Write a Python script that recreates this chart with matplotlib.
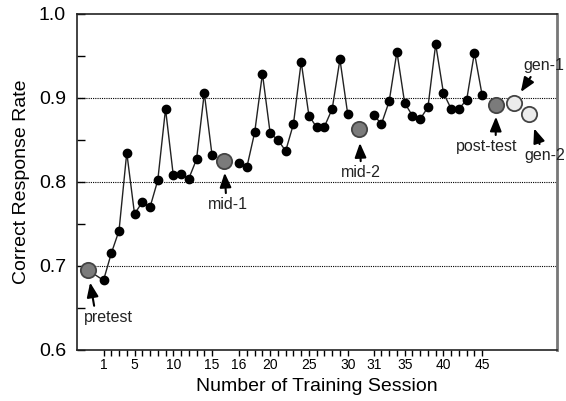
import matplotlib
matplotlib.use('Agg')
import matplotlib.pyplot as plt

plt.rcParams['font.family'] = ['Liberation Sans', 'DejaVu Sans']

# training sessions 1..45, split in three blocks by the mid tests
sessions = list(range(1, 46))
rates = [0.683, 0.715, 0.742, 0.835, 0.762, 0.776, 0.770, 0.802, 0.887, 0.808,
         0.809, 0.804, 0.827, 0.906, 0.832,
         0.823, 0.818, 0.859, 0.929, 0.858, 0.850, 0.837, 0.869, 0.943, 0.879,
         0.865, 0.866, 0.887, 0.946, 0.881,
         0.880, 0.869, 0.896, 0.955, 0.894, 0.879, 0.875, 0.889, 0.964, 0.906,
         0.887, 0.887, 0.898, 0.954, 0.903]

test_names = ['pretest', 'mid-1', 'mid-2', 'post-test', 'gen-1', 'gen-2']
test_rates = [0.695, 0.825, 0.863, 0.892, 0.894, 0.881]

tick_shown = [1, 5, 10, 15, 16, 20, 25, 30, 31, 35, 40, 45]


def pos(s):
    # horizontal place of a session (gaps left for the mid tests)
    if s <= 15:
        return s
    elif s <= 30:
        return s + 2.5
    return s + 4.85


test_x = [-1.0, 16.55, 34.0, 51.65, 53.9, 55.9]

fig = plt.figure(figsize=(5.66, 4.01), dpi=100)
ax = fig.add_axes([77 / 566, 1 - 350 / 401, 480 / 566, 336 / 401])

for y in [0.7, 0.8, 0.9]:
    ax.axhline(y, color='black', lw=0.8, ls=(0, (1, 1)), zorder=1)

# three connected blocks, pretest joins the first one
blocks = [(1, 15), (16, 30), (31, 45)]
for i, (a, b) in enumerate(blocks):
    xs = [pos(s) for s in sessions[a - 1:b]]
    ys = rates[a - 1:b]
    ax.plot(xs, ys, 'o', color='black', ms=6, zorder=3)
    if i == 0:
        xs = [test_x[0]] + xs
        ys = [test_rates[0]] + ys
    ax.plot(xs, ys, '-', color='#222222', lw=1.0, zorder=2)

for k in range(6):
    fc = '#7b7b7b' if k < 4 else '#ececec'
    ax.plot(test_x[k], test_rates[k], 'o', ms=11, mfc=fc, mec='#444444',
            mew=1.3, zorder=4)

# label, text offset (pt), arrow start on text, shrink at marker
notes = [((14.8, -34), (0.22, 1.0), 9),
         ((2.9, -31.5), (0.45, 1.0), 8.5),
         ((1.1, -31.5), (0.5, 1.0), 10),
         ((-7, -30.2), (0.65, 1.0), 8.6),
         ((21.5, 27), (0.25, 0.0), 9.5),
         ((11.5, -30), (0.4, 1.0), 11)]
for k, (off, rp, sh) in enumerate(notes):
    ax.annotate(test_names[k], xy=(test_x[k], test_rates[k]), xytext=off,
                textcoords='offset points', ha='center', va='center',
                fontsize=11.5, color='#222222', annotation_clip=False,
                arrowprops=dict(arrowstyle='-|>,head_length=0.75,head_width=0.3',
                                color='black', lw=1.5, relpos=rp,
                                shrinkA=1, shrinkB=sh))

ax.set_xlim(-2.42, 59.5)
ax.set_ylim(0.6, 1.0)

ax.set_xticks([pos(s) for s in sessions])
ax.set_xticklabels([str(s) if s in tick_shown else '' for s in sessions])
ax.tick_params(axis='x', direction='out', length=4, width=1, labelsize=10, pad=2)

ax.set_yticks([0.6, 0.7, 0.8, 0.9, 1.0])
ax.set_yticklabels(['0.6', '0.7', '0.8', '0.9', '1.0'])
ax.set_yticks([0.65, 0.75, 0.85, 0.95], minor=True)
ax.tick_params(axis='y', which='both', direction='in', length=6, width=1,
               labelsize=14, pad=8)

for side in ['left', 'bottom', 'top']:
    ax.spines[side].set_linewidth(1.2)
    ax.spines[side].set_color('#222222')
ax.spines['right'].set_color('#777777')
ax.spines['right'].set_linewidth(2.0)

ax.set_xlabel('Number of Training Session', fontsize=14, labelpad=4)
ax.set_ylabel('Correct Response Rate', fontsize=14, labelpad=6)

fig.savefig('out.png', dpi=100)
